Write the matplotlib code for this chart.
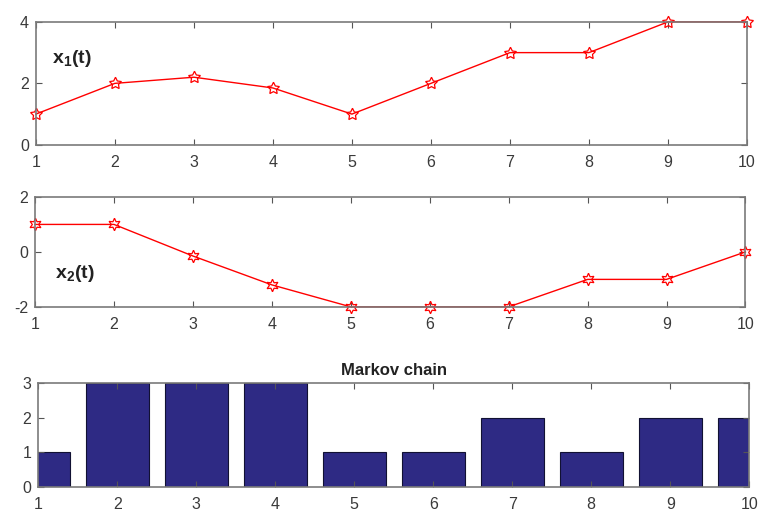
import numpy as np
import matplotlib.pyplot as plt

plt.rcParams['font.family'] = ['Liberation Sans', 'DejaVu Sans']
plt.rcParams['mathtext.fontset'] = 'custom'
plt.rcParams['mathtext.rm'] = 'Liberation Sans'
plt.rcParams['mathtext.bf'] = 'Liberation Sans:bold'
plt.rcParams['axes.unicode_minus'] = False

t = np.arange(1, 11)
x1 = [1, 2, 2.2, 1.85, 1, 2, 3, 3, 4, 4]
x2 = [1, 1, -0.15, -1.2, -2, -2, -2, -1, -1, 0]
state = [1, 3, 3, 3, 1, 1, 2, 1, 2, 2]

box = '#7a7a7a'
txt = '#3a3a3a'


def style(ax, yticks):
    for s in ax.spines.values():
        s.set_color(box)
        s.set_linewidth(1.2)
    ax.set_xlim(1, 10)
    ax.set_xticks(t)
    ax.set_yticks(yticks)
    ax.tick_params(direction='in', top=True, right=True, length=4,
                   color='#555555', labelcolor=txt, labelsize=11.5)
    ax.tick_params(axis='x', pad=7)
    ax.tick_params(axis='y', pad=5)


fig = plt.figure(figsize=(7.63, 5.21), dpi=100)

ax1 = fig.add_axes([0.047, 0.722, 0.932, 0.236])
ax1.plot(t, x1, color='red', lw=1, marker=(5, 1, 0), ms=9,
         mfc='none', mec='red', mew=0.9, clip_on=False)
ax1.set_ylim(0, 4)
style(ax1, [0, 2, 4])
ax1.text(1.2, 2.65, r'$\mathbf{x_1(t)}$', fontsize=14, color='#222222')

ax2 = fig.add_axes([0.046, 0.411, 0.931, 0.211])
ax2.plot(t, x2, color='red', lw=1, marker=(6, 1, 0), ms=9,
         mfc='none', mec='red', mew=0.9, clip_on=False)
ax2.set_ylim(-2, 2)
style(ax2, [-2, 0, 2])
ax2.text(1.25, -0.95, r'$\mathbf{x_2(t)}$', fontsize=14, color='#222222')

ax3 = fig.add_axes([0.050, 0.065, 0.932, 0.200])
ax3.bar(t, state, width=0.8, color='#2e2a84', edgecolor='#111133', lw=0.8)
ax3.set_ylim(0, 3)
style(ax3, [0, 1, 2, 3])
ax3.set_title('Markov chain', fontsize=12, fontweight='bold', color='#222222', pad=6)

fig.savefig('out.png', dpi=100)
